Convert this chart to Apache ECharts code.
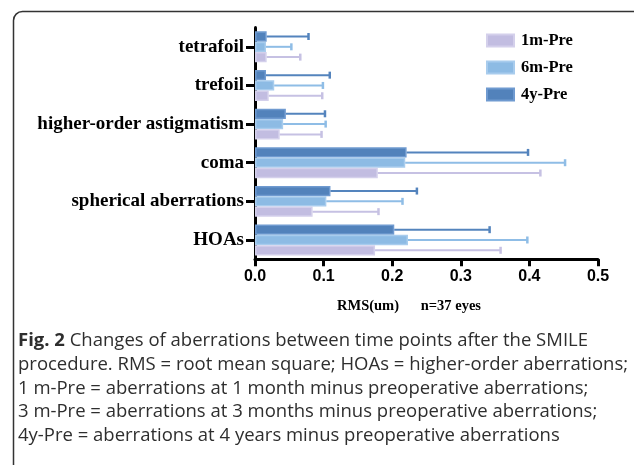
<!DOCTYPE html>
<html><head><meta charset="utf-8">
<script src="https://cdn.jsdelivr.net/npm/echarts@6/dist/echarts.min.js"></script>
<style>html,body{margin:0;padding:0;background:#fff}#c{width:634px;height:465px}</style>
</head><body><div id="c"></div>
<script>
// Categories, bottom to top
const categories = ['HOAs', 'spherical aberrations', 'coma', 'higher-order astigmatism', 'trefoil', 'tetrafoil'];
const legendNames = ['1m-Pre', '6m-Pre', '4y-Pre'];
// Means (RMS, um)
const mean1m = [0.175, 0.084, 0.179, 0.036, 0.020, 0.017];
const mean6m = [0.223, 0.104, 0.219, 0.041, 0.028, 0.016];
const mean4y = [0.203, 0.110, 0.221, 0.045, 0.016, 0.017];
// Standard deviations (error bar length)
const sd1m = [0.183, 0.096, 0.237, 0.061, 0.078, 0.049];
const sd6m = [0.174, 0.111, 0.233, 0.062, 0.071, 0.037];
const sd4y = [0.139, 0.126, 0.177, 0.057, 0.093, 0.061];
const xTicks = [0, 0.1, 0.2, 0.3, 0.4, 0.5];

const styles = {
  '4y-Pre': {fill: '#5282bb', border: '#6f9ad0', err: '#5484bd'},
  '6m-Pre': {fill: '#8dbbe4', border: '#a8cced', err: '#8fbde6'},
  '1m-Pre': {fill: '#c2bde1', border: '#d4d0eb', err: '#c6c1e3'}
};
// top-to-bottom order within a group
const order = [
  {name: '4y-Pre', mean: mean4y, sd: sd4y},
  {name: '6m-Pre', mean: mean6m, sd: sd6m},
  {name: '1m-Pre', mean: mean1m, sd: sd1m}
];

const chart = echarts.init(document.getElementById('c'), null, {renderer: 'canvas'});
const series = [];
order.forEach((o, k) => {
  const st = styles[o.name];
  series.push({
    name: o.name, type: 'bar', data: o.mean,
    barGap: '0%', barCategoryGap: '20%',
    itemStyle: {color: st.fill, borderColor: st.border, borderWidth: 1.5},
    z: 2
  });
});
order.forEach((o, k) => {
  const st = styles[o.name];
  series.push({
    name: o.name + ' err', type: 'custom', z: 3,
    data: o.mean.map((m, i) => [i, m, o.sd[i]]),
    encode: {x: 1, y: 0},
    renderItem: function (params, api) {
      const ci = api.value(0), m = api.value(1), s = api.value(2);
      const band = api.size([0, 1])[1];
      const w = band * 0.8 / 3;
      const off = -band * 0.4 + w * (k + 0.5);
      const p0 = api.coord([m, ci]);
      const p1 = api.coord([m + s, ci]);
      const y = p0[1] + off;
      return {
        type: 'group',
        children: [
          {type: 'line', shape: {x1: p0[0], y1: y, x2: p1[0], y2: y}, style: {stroke: st.err, lineWidth: 2}},
          {type: 'line', shape: {x1: p1[0], y1: y - 3.5, x2: p1[0], y2: y + 3.5}, style: {stroke: st.err, lineWidth: 2.5}}
        ]
      };
    }
  });
});

const capFont = "'Open Sans', sans-serif";
const capSize = 18.5;
const capLines = [
  'procedure. RMS = root mean square; HOAs = higher-order aberrations;',
  '1 m-Pre = aberrations at 1 month minus preoperative aberrations;',
  '3 m-Pre = aberrations at 3 months minus preoperative aberrations;',
  '4y-Pre = aberrations at 4 years minus preoperative aberrations'
];
const graphics = [
  {type: 'rect', shape: {x: 13.5, y: 11.5, width: 640, height: 480, r: 9}, style: {fill: 'none', stroke: '#333', lineWidth: 1.5}, z: -1, silent: true},
  {type: 'text', x: 337, y: 306, style: {text: 'RMS(um)', font: "bold 14.5px 'Liberation Serif'", fill: '#000', textVerticalAlign: 'middle'}},
  {type: 'text', x: 481, y: 306, style: {text: 'n=37 eyes', font: "bold 14.5px 'Liberation Serif'", fill: '#000', textVerticalAlign: 'middle', textAlign: 'right'}},
  {type: 'text', x: 18, y: 341, style: {
    text: '{b|Fig. 2} Changes of aberrations between time points after the SMILE',
    font: capSize + 'px ' + capFont, fill: '#2e2e2e', textVerticalAlign: 'middle',
    rich: {b: {fontWeight: 'bold', fontSize: capSize, fontFamily: 'Open Sans', fill: '#2e2e2e'}}
  }}
];
const ys = [365, 388.5, 412, 435.5];
capLines.forEach((t, i) => graphics.push({type: 'text', x: 18, y: ys[i], style: {text: t, font: capSize + 'px ' + capFont, fill: '#2e2e2e', textVerticalAlign: 'middle'}}));

chart.setOption({
  animation: false,
  backgroundColor: '#fff',
  grid: {left: 255, right: 36, top: 27.5, bottom: 205.7, containLabel: false},
  legend: {
    data: legendNames, orient: 'vertical', left: 481, top: 27,
    itemWidth: 27, itemHeight: 12, itemGap: 10, icon: 'rect',
    textStyle: {fontFamily: 'Liberation Serif', fontWeight: 'bold', fontSize: 16.5, color: '#000', padding: [0, 0, 0, 2]}
  },
  xAxis: {
    type: 'value', min: 0, max: 0.5, interval: 0.1,
    axisLine: {show: true, lineStyle: {color: '#000', width: 3}},
    axisTick: {show: true, length: 7, lineStyle: {color: '#000', width: 3}},
    axisLabel: {formatter: v => v.toFixed(1), fontFamily: 'Liberation Sans', fontWeight: 'bold', fontSize: 16, color: '#000', margin: 9},
    splitLine: {show: false}
  },
  yAxis: {
    type: 'category', data: categories,
    axisLine: {show: true, lineStyle: {color: '#000', width: 3}},
    axisTick: {show: true, alignWithLabel: true, length: 9, lineStyle: {color: '#000', width: 3}},
    axisLabel: {fontFamily: 'Liberation Serif', fontWeight: 'bold', fontSize: 19, color: '#000', margin: 11},
    splitLine: {show: false}
  },
  series: series,
  graphic: graphics
});
</script></body></html>
